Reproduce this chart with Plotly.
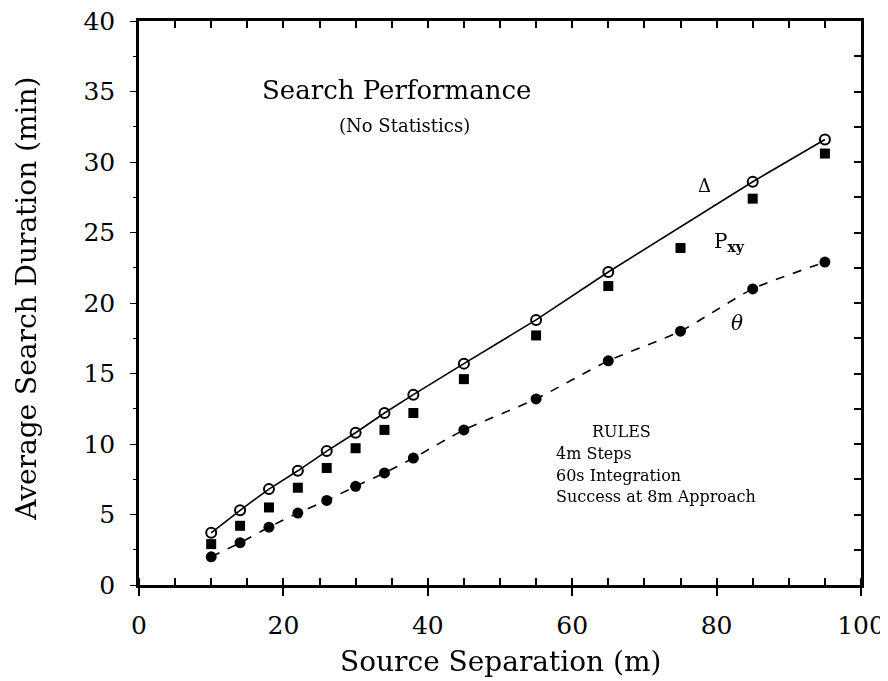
import plotly.graph_objects as go

# source separation (m) for each measured point
sep_delta = [10, 14, 18, 22, 26, 30, 34, 38, 45, 55, 65, 85, 95]
dur_delta = [3.7, 5.3, 6.8, 8.1, 9.5, 10.8, 12.2, 13.5, 15.7, 18.8, 22.2, 28.6, 31.6]

sep_pxy = [10, 14, 18, 22, 26, 30, 34, 38, 45, 55, 65, 75, 85, 95]
dur_pxy = [2.9, 4.2, 5.5, 6.9, 8.3, 9.7, 11.0, 12.2, 14.6, 17.7, 21.2, 23.9, 27.4, 30.6]

sep_theta = [10, 14, 18, 22, 26, 30, 34, 38, 45, 55, 65, 75, 85, 95]
dur_theta = [2.0, 3.0, 4.1, 5.1, 6.0, 7.0, 7.95, 9.0, 11.0, 13.2, 15.9, 18.0, 21.0, 22.9]

x_ticks = [0, 20, 40, 60, 80, 100]
y_ticks = [0, 5, 10, 15, 20, 25, 30, 35, 40]

rules_lines = ["4m Steps", "60s Integration", "Success at 8m Approach"]

SERIF = "DejaVu Serif"

fig = go.Figure()

fig.add_trace(go.Scatter(
    x=sep_delta, y=dur_delta, mode="lines+markers",
    line=dict(color="black", width=1.6),
    marker=dict(symbol="circle-open", size=10, color="black", line=dict(width=2)),
    showlegend=False,
))
fig.add_trace(go.Scatter(
    x=sep_pxy, y=dur_pxy, mode="markers",
    marker=dict(symbol="square", size=10, color="black"),
    showlegend=False,
))
fig.add_trace(go.Scatter(
    x=sep_theta, y=dur_theta, mode="lines+markers",
    line=dict(color="black", width=1.6, dash="dash", shape="spline", smoothing=0.6),
    marker=dict(symbol="circle", size=11, color="black"),
    showlegend=False,
))

# invisible trace so the mirrored top / right axes exist
fig.add_trace(go.Scatter(x=[0, 100], y=[0, 40], mode="markers", opacity=0,
                         xaxis="x2", yaxis="y2", showlegend=False, hoverinfo="skip"))

axis_font = dict(family=SERIF, size=25, color="black")

# the page body adds an 8px offset, so the figure is 8px smaller than the window
fig.update_layout(
    width=880, height=673,
    margin=dict(l=131, r=27, t=13, b=96),
    plot_bgcolor="white", paper_bgcolor="white",
    xaxis=dict(
        range=[0, 100], tickvals=x_ticks, ticktext=[str(v) for v in x_ticks],
        ticks="outside", ticklen=8, tickwidth=1.5, tickcolor="black",
        minor=dict(dtick=5, ticks="inside", ticklen=7, tickcolor="black", tickwidth=1.5),
        showline=True, linecolor="black", linewidth=2.5, showgrid=False, zeroline=False,
        tickfont=axis_font, automargin=False, ticklabeloverflow="allow",
        ticklabelstandoff=8,
    ),
    yaxis=dict(
        range=[0, 40], tickvals=y_ticks, ticktext=[str(v) for v in y_ticks],
        ticks="outside", ticklen=6, tickwidth=1.2, tickcolor="black",
        minor=dict(dtick=2.5, ticks="outside", ticklen=3, tickcolor="black", tickwidth=1.2),
        showline=True, linecolor="black", linewidth=2.5, showgrid=False, zeroline=False,
        tickfont=axis_font, automargin=False, ticklabeloverflow="allow",
        ticklabelstandoff=10,
    ),
    xaxis2=dict(
        overlaying="x", side="top", range=[0, 100], dtick=5, ticks="inside", ticklen=7,
        tickcolor="black", tickwidth=1.5, showticklabels=False, automargin=False,
        showline=True, linecolor="black", linewidth=2.5, showgrid=False, zeroline=False,
    ),
    yaxis2=dict(
        overlaying="y", side="right", range=[0, 40], dtick=2.5, ticks="inside", ticklen=7,
        tickcolor="black", tickwidth=1.5, showticklabels=False, automargin=False,
        showline=True, linecolor="black", linewidth=2.5, showgrid=False, zeroline=False,
    ),
)

# axis titles
fig.add_annotation(xref="paper", yref="paper", x=0.5, y=-0.136, yanchor="middle",
                   text="Source Separation (m)", showarrow=False,
                   font=dict(family=SERIF, size=28, color="black"))
fig.add_annotation(xref="paper", yref="paper", x=-0.156, y=0.508, xanchor="center",
                   text="Average Search Duration (min)", textangle=-90, showarrow=False,
                   font=dict(family=SERIF, size=28, color="black"))

fig.add_annotation(x=35.7, y=35.1, text="Search Performance", showarrow=False,
                   font=dict(family=SERIF, size=26, color="black"))
fig.add_annotation(x=36.8, y=32.6, text="(No Statistics)", showarrow=False,
                   font=dict(family=SERIF, size=18, color="black"))

fig.add_annotation(x=78.3, y=28.3, text="Δ", showarrow=False,
                   font=dict(family=SERIF, size=18, color="black"))
fig.add_annotation(x=81.8, y=24.3, text="P<sub><b>xy</b></sub>", showarrow=False,
                   font=dict(family=SERIF, size=20, color="black"))
fig.add_annotation(x=82.8, y=18.6, text="<i>θ</i>", showarrow=False,
                   font=dict(family=SERIF, size=20, color="black"))

fig.add_annotation(x=66.8, y=10.9, text="RULES", showarrow=False,
                   font=dict(family=SERIF, size=16, color="black"))
for i, line in enumerate(rules_lines):
    fig.add_annotation(x=57.5, y=9.3 - 1.52 * i, text=line, showarrow=False, xanchor="left",
                       font=dict(family=SERIF, size=16, color="black"))

fig.write_html("out.html")
